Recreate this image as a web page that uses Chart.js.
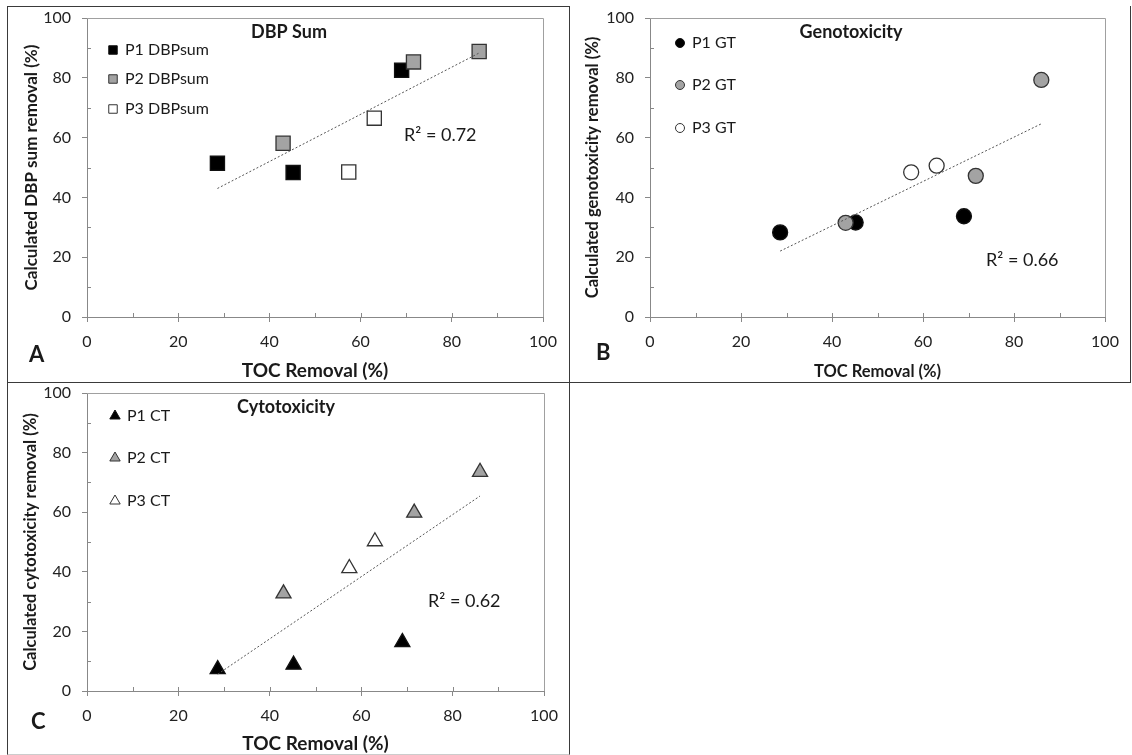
<!DOCTYPE html>
<html>
<head>
<meta charset="utf-8">
<script src="https://cdn.jsdelivr.net/npm/chart.js@4.4.1/dist/chart.umd.min.js"></script>
<style>
  body { margin: 0; background: #fff; }
  #page { position: relative; width: 1132px; height: 755px; overflow: hidden; background: #fff; }
  .box { position: absolute; box-sizing: border-box; border: 1.5px solid #3a3a3a; }
  canvas { position: absolute; }
</style>
</head>
<body>
<div id="page">
  <div class="box" style="left:7px;top:6px;width:563px;height:377px"></div>
  <div class="box" style="left:568px;top:6px;width:563px;height:377px;border-top:none;border-left:none"></div>
  <div class="box" style="left:7px;top:381px;width:563px;height:374px;border-top:none;border-bottom-color:#ccc"></div>
  <canvas id="chartA" width="562" height="376" style="left:7px;top:6px"></canvas>
  <canvas id="chartB" width="561" height="376" style="left:569px;top:6px"></canvas>
  <canvas id="chartC" width="562" height="373" style="left:7px;top:382px"></canvas>
</div>
<script>
// TOC removal (%) for the three plants
const tocP1 = [28.6, 45.2, 69.0];
const tocP2 = [43.0, 71.6, 86.0];
const tocP3 = [57.4, 63.0];

// calculated DBP sum removal (%)
const dbpP1 = [51.4, 48.3, 82.5];
const dbpP2 = [58.1, 85.3, 88.8];
const dbpP3 = [48.5, 66.5];

// calculated genotoxicity removal (%)
const gtP1 = [28.3, 31.6, 33.7];
const gtP2 = [31.5, 47.2, 79.3];
const gtP3 = [48.4, 50.6];

// calculated cytotoxicity removal (%)
const ctP1 = [7.3, 8.8, 16.4];
const ctP2 = [32.7, 59.8, 73.5];
const ctP3 = [41.2, 50.2];

const axisTicks = [0, 20, 40, 60, 80, 100];
const minorTicks = [10, 30, 50, 70, 90];
const r2Labels = ['R\u00b2 = 0.72', 'R\u00b2 = 0.66', 'R\u00b2 = 0.62'];

Chart.defaults.font.family = 'Lato, "Open Sans", sans-serif';
Chart.defaults.color = '#222';

const fills = ['#000000', '#a3a3a3', '#ffffff'];
const edges = ['#111111', '#333333', '#333333'];

function toPoints(xs, ys) {
  return xs.map((x, i) => ({ x: x, y: ys[i] }));
}

// least squares line over all points, drawn from min x to max x
function fitLine(xs, ys) {
  const n = xs.length;
  const mx = xs.reduce((a, b) => a + b, 0) / n;
  const my = ys.reduce((a, b) => a + b, 0) / n;
  let sxy = 0, sxx = 0;
  xs.forEach((x, i) => { sxy += (x - mx) * (ys[i] - my); sxx += (x - mx) * (x - mx); });
  const k = sxy / sxx;
  const x0 = Math.min(...xs), x1 = Math.max(...xs);
  return [{ x: x0, y: my + k * (x0 - mx) }, { x: x1, y: my + k * (x1 - mx) }];
}

const decor = {
  id: 'decor',
  beforeDatasetsDraw(chart, args, o) {
    const ctx = chart.ctx;
    const a = chart.chartArea;
    const sx = chart.scales.x, sy = chart.scales.y;
    ctx.save();
    ctx.strokeStyle = '#a0a0a0';
    ctx.lineWidth = 1;
    ctx.beginPath();
    ctx.moveTo(a.left, a.top + 0.5);
    ctx.lineTo(a.right + 0.5, a.top + 0.5);
    ctx.lineTo(a.right + 0.5, a.bottom);
    ctx.stroke();
    ctx.strokeStyle = '#888';
    ctx.beginPath();
    minorTicks.forEach(v => {
      const px = Math.round(sx.getPixelForValue(v)) + 0.5;
      ctx.moveTo(px, a.bottom);
      ctx.lineTo(px, a.bottom - 4);
      const py = Math.round(sy.getPixelForValue(v)) + 0.5;
      ctx.moveTo(a.left, py);
      ctx.lineTo(a.left + 4, py);
    });
    axisTicks.slice(1, -1).forEach(v => {
      const px = Math.round(sx.getPixelForValue(v)) + 0.5;
      ctx.moveTo(px, a.bottom);
      ctx.lineTo(px, a.bottom - 4);
    });
    ctx.stroke();
    ctx.restore();
  },
  afterDraw(chart, args, o) {
    const ctx = chart.ctx;
    ctx.save();
    ctx.fillStyle = '#1a1a1a';
    ctx.textBaseline = 'middle';
    ctx.textAlign = 'center';
    ctx.font = 'bold 18px Lato, "Open Sans", sans-serif';
    ctx.fillText(o.title, o.titleX, o.titleY);
    ctx.textAlign = 'left';
    ctx.font = 'bold 22px Lato, "Open Sans", sans-serif';
    ctx.fillText(o.letter, o.letterX, o.letterY);
    ctx.font = '18px Lato, "Open Sans", sans-serif';
    ctx.fillText(o.r2, o.r2X, o.r2Y);
    ctx.font = '16px Lato, "Open Sans", sans-serif';
    chart.data.datasets.forEach((ds, i) => {
      if (ds.showLine) return;
      const y = o.legendY[i - 1];
      ctx.fillStyle = ds.backgroundColor;
      ctx.strokeStyle = ds.borderColor;
      ctx.lineWidth = 1;
      Chart.helpers.drawPoint(ctx, { pointStyle: ds.pointStyle, radius: o.legendR, borderWidth: 1, rotation: 0 }, o.legendX, y);
      ctx.fillStyle = '#1a1a1a';
      ctx.fillText(ds.label, o.legendX + 12, y);
    });
    ctx.restore();
  }
};

function makePanel(id, p) {
  const allX = tocP1.concat(tocP2, tocP3);
  const allY = p.ys[0].concat(p.ys[1], p.ys[2]);
  const xsets = [tocP1, tocP2, tocP3];
  const datasets = [{
    label: 'trend',
    data: fitLine(allX, allY),
    showLine: true,
    borderColor: '#555',
    borderWidth: 1,
    borderDash: [2, 2],
    pointRadius: 0,
    order: 0
  }];
  p.names.forEach((name, i) => {
    datasets.push({
      label: name,
      data: toPoints(xsets[i], p.ys[i]),
      pointStyle: p.style,
      pointRadius: p.radius,
      pointHoverRadius: p.radius,
      backgroundColor: fills[i],
      borderColor: edges[i],
      borderWidth: 1.3,
      order: 3 - i
    });
  });

  new Chart(document.getElementById(id), {
    type: 'scatter',
    data: { datasets: datasets },
    options: {
      responsive: false,
      animation: false,
      layout: { padding: { top: p.top, right: p.right, left: 0, bottom: 0 } },
      plugins: {
        legend: { display: false },
        tooltip: { enabled: false },
        decor: p.decor
      },
      scales: {
        x: {
          type: 'linear', min: 0, max: 100,
          afterBuildTicks: s => { s.ticks = axisTicks.map(v => ({ value: v })); },
          ticks: { color: '#222', font: { size: 16 }, padding: 10 },
          grid: { drawOnChartArea: false, tickLength: 5, color: '#888' },
          border: { color: '#888', width: 1 },
          title: { display: true, text: 'TOC Removal (%)', color: '#1a1a1a',
                   font: { size: p.xTitleSize, weight: 'bold' }, padding: { top: p.xTitlePad, bottom: 0 } },
          afterFit: s => { s.height = p.xAxisH; s.paddingLeft = 0; s.paddingRight = 0; }
        },
        y: {
          type: 'linear', min: 0, max: 100,
          afterBuildTicks: s => { s.ticks = axisTicks.map(v => ({ value: v })); },
          ticks: { color: '#222', font: { size: 16 }, padding: 11 },
          grid: { drawOnChartArea: false, tickLength: 5, color: '#888' },
          border: { color: '#888', width: 1 },
          title: { display: true, text: p.yTitle, color: '#1a1a1a',
                   font: { size: p.yTitleSize, weight: 'bold' }, padding: { top: p.yTitlePad, bottom: 0 } },
          afterFit: s => { s.width = p.yAxisW; s.paddingTop = 0; s.paddingBottom = 0; }
        }
      }
    },
    plugins: [decor]
  });
}

makePanel('chartA', {
  ys: [dbpP1, dbpP2, dbpP3],
  names: ['P1 DBPsum', 'P2 DBPsum', 'P3 DBPsum'],
  style: 'rect', radius: 10,
  top: 12, right: 26, xAxisH: 65, yAxisW: 80,
  xTitleSize: 19, xTitlePad: 2.6, yTitle: 'Calculated DBP sum removal (%)', yTitleSize: 17, yTitlePad: 14,
  decor: { title: 'DBP Sum', titleX: 282, titleY: 26, letter: 'A', letterX: 22, letterY: 349,
           r2: r2Labels[0], r2X: 397, r2Y: 129, legendX: 106, legendY: [44, 73, 103], legendR: 6 }
});

makePanel('chartB', {
  ys: [gtP1, gtP2, gtP3],
  names: ['P1 GT', 'P2 GT', 'P3 GT'],
  style: 'circle', radius: 7.5,
  top: 12, right: 25, xAxisH: 65, yAxisW: 81,
  xTitleSize: 16.5, xTitlePad: 5, yTitle: 'Calculated genotoxicity removal (%)', yTitleSize: 16.5, yTitlePad: 14,
  decor: { title: 'Genotoxicity', titleX: 282, titleY: 26, letter: 'B', letterX: 27, letterY: 347,
           r2: r2Labels[1], r2X: 417, r2Y: 254, legendX: 111, legendY: [37, 79, 122], legendR: 4.5 }
});

makePanel('chartC', {
  ys: [ctP1, ctP2, ctP3],
  names: ['P1 CT', 'P2 CT', 'P3 CT'],
  style: 'triangle', radius: 8.7,
  top: 11, right: 25, xAxisH: 64, yAxisW: 80,
  xTitleSize: 19, xTitlePad: 1.6, yTitle: 'Calculated cytotoxicity removal (%)', yTitleSize: 16.5, yTitlePad: 14,
  decor: { title: 'Cytotoxicity', titleX: 279, titleY: 25, letter: 'C', letterX: 24, letterY: 340,
           r2: r2Labels[2], r2X: 421, r2Y: 219, legendX: 108, legendY: [34, 76, 119], legendR: 6 }
});
</script>
</body>
</html>
